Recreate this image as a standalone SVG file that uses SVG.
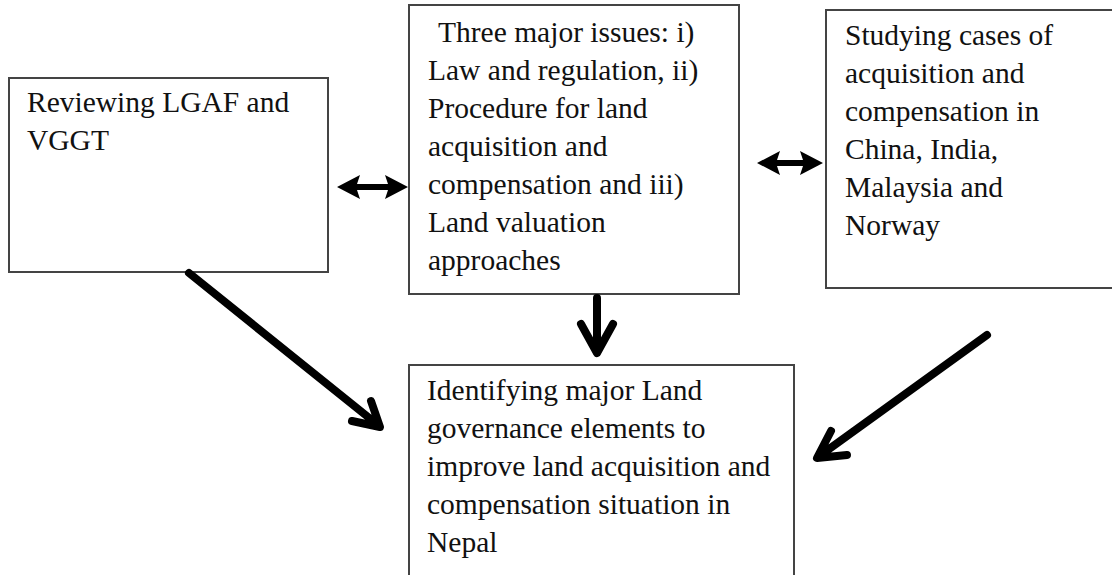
<svg xmlns="http://www.w3.org/2000/svg" width="1112" height="575" viewBox="0 0 1112 575">
<style>
.box{fill:#fff;stroke:#444;stroke-width:2}
.t{font-family:"Liberation Serif","Times New Roman",serif;font-size:29.5px;fill:#111}
.arr{fill:none;stroke:#000;stroke-width:8;stroke-linecap:round;stroke-linejoin:round}
.dbl{fill:#000;stroke:none}
</style>
<rect width="1112" height="575" fill="#fff"/>
<g id="node-review">
<rect class="box" x="9" y="78" width="319" height="194"/>
<text class="t" x="27" y="112">Reviewing LGAF and</text>
<text class="t" x="27" y="150">VGGT</text>
</g>
<g id="node-issues">
<rect class="box" x="409" y="5" width="330" height="289"/>
<text class="t" x="438" y="42">Three major issues: i)</text>
<text class="t" x="428" y="80">Law  and regulation, ii)</text>
<text class="t" x="428" y="118">Procedure for land</text>
<text class="t" x="428" y="156">acquisition and</text>
<text class="t" x="428" y="194">compensation and iii)</text>
<text class="t" x="428" y="232">Land valuation</text>
<text class="t" x="428" y="270">approaches</text>
</g>
<g id="node-cases">
<rect class="box" x="826" y="10" width="300" height="278"/>
<text class="t" x="845" y="45">Studying cases of</text>
<text class="t" x="845" y="83">acquisition and</text>
<text class="t" x="845" y="121">compensation in</text>
<text class="t" x="845" y="159">China, India,</text>
<text class="t" x="845" y="197">Malaysia and</text>
<text class="t" x="845" y="235">Norway</text>
</g>
<g id="node-identify">
<rect class="box" x="409" y="365" width="385" height="230"/>
<text class="t" x="427" y="400">Identifying major Land</text>
<text class="t" x="427" y="438">governance elements to</text>
<text class="t" x="427" y="476">improve land acquisition and</text>
<text class="t" x="427" y="514">compensation situation in</text>
<text class="t" x="427" y="552">Nepal</text>
</g>
<g id="connectors">
<path class="dbl" d="M337,187 L360,175 L357,184 L388,184 L385,175 L408,187 L385,199 L388,190 L357,190 L360,199 Z"/>
<path class="dbl" d="M757,163 L780,151 L777,160 L803,160 L800,151 L823,163 L800,175 L803,166 L777,166 L780,175 Z"/>
<path class="arr" d="M597,298 L597,352 M581,324 L597,353 L613,324"/>
<path class="arr" d="M189,273 L378,425 M352,421 L380,427 L371,401"/>
<path class="arr" d="M987,335 L818,457 M831,431 L817,458 L847,455"/>
</g>
</svg>
